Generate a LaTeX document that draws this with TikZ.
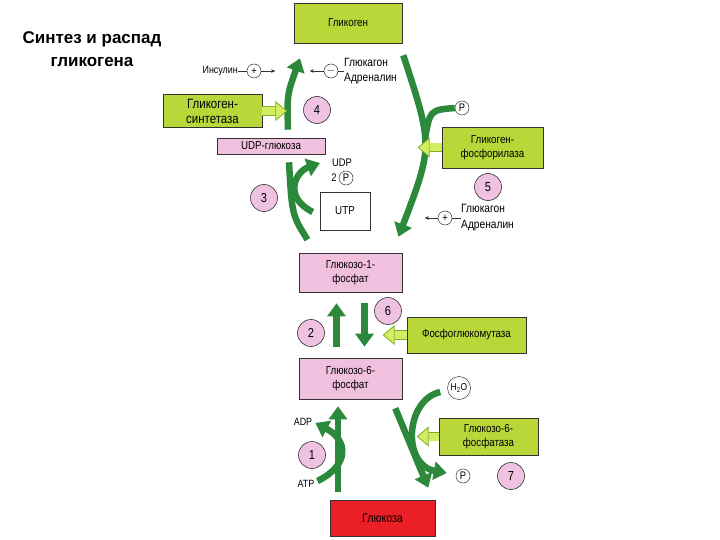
\documentclass[tikz,border=0pt]{standalone}
\usepackage{fontspec}
\setmainfont{Liberation Sans}
\newfontfamily\narrowsf[FakeStretch=0.85]{Liberation Sans}
\usetikzlibrary{arrows.meta,calc}
\definecolor{enzgreen}{RGB}{186,215,58}
\definecolor{holfill}{RGB}{212,236,96}
\definecolor{holedge}{RGB}{128,172,40}
\definecolor{flowgreen}{RGB}{44,136,58}
\definecolor{metpink}{RGB}{240,192,222}
\definecolor{numpink}{RGB}{240,194,226}
\definecolor{glured}{RGB}{234,32,38}
\begin{document}
\begin{tikzpicture}[x=1pt,y=-1pt,
    box/.style={draw=black!80,line width=0.6pt,minimum width=103pt,minimum height=39pt,inner sep=1pt,align=center,font=\narrowsf\fontsize{11.5}{14.5}\selectfont},
    enz/.style={box,fill=enzgreen},
    met/.style={box,fill=metpink},
    num/.style={circle,draw=black!80,line width=0.6pt,fill=numpink,minimum size=27pt,inner sep=0pt,font=\narrowsf\fontsize{13}{14}\selectfont},
    ring/.style={circle,draw=black!80,line width=0.5pt,minimum size=14pt,inner sep=0pt,font=\narrowsf\fontsize{11}{12}\selectfont},
    txt/.style={inner sep=0pt,align=left,font=\narrowsf\fontsize{10.5}{15}\selectfont},
    flow/.style={draw=flowgreen,line width=6.5pt,-{Triangle[length=13pt,width=18pt]}},
    flowline/.style={draw=flowgreen,line width=6.5pt},
    hol/.style={draw=holfill,line width=8pt,-{Triangle[length=12pt,width=20pt,line width=0.8pt,color=holedge,fill=holfill]},
        preaction={-,draw=holedge,line width=9.6pt,shorten >=12pt}},
    effect/.style={draw=black!80,line width=0.5pt,-{Stealth[length=4pt,width=3.5pt]}}]
\useasboundingbox (0,0) rectangle (720,540);
\node[font=\bfseries\fontsize{17}{23}\selectfont,align=center] (title) at (92,49) {Синтез и распад\\гликогена};
% substances and enzymes
\node[enz,minimum width=108pt,minimum height=40pt] (gn) at (348,23) {Гликоген};
\node[enz,minimum width=99pt,minimum height=33pt,font=\narrowsf\fontsize{13.5}{15}\selectfont] (gs) at (212.5,111) {Гликоген-\\синтетаза};
\node[met,minimum width=108pt,minimum height=16pt] (udpg) at (271,146) {UDP-глюкоза};
\node[box,minimum width=50pt,minimum height=38pt] (utp) at (345,211) {UTP};
\node[enz,minimum width=101pt,minimum height=41pt] (gp) at (492.5,147.5) {Гликоген-\\фосфорилаза};
\node[met] (g1p) at (350.5,272.5) {Глюкозо-1-\\фосфат};
\node[enz,minimum width=119pt,minimum height=36pt] (pgm) at (466.5,335) {Фосфоглюкомутаза};
\node[met,minimum height=41pt] (g6p) at (350.5,378.5) {Глюкозо-6-\\фосфат};
\node[enz,minimum width=99pt,minimum height=37pt] (gpase) at (488.5,436.5) {Глюкозо-6-\\фосфатаза};
\node[box,fill=glured,minimum width=105pt,minimum height=36pt,font=\narrowsf\fontsize{12.5}{14}\selectfont] (glu) at (382.5,518) {Глюкоза};
% step numbers
\node[num] (n1) at (312,455) {1};
\node[num] (n2) at (311,333) {2};
\node[num] (n3) at (264,198) {3};
\node[num] (n4) at (317,110) {4};
\node[num] (n5) at (488,187) {5};
\node[num] (n6) at (388,311) {6};
\node[num] (n7) at (511,476) {7};
% small labels
\node[txt,anchor=east] (ins) at (238,71) {Инсулин};
\node[ring] (insc) at (254,71) {+};
\node[ring] (gc1) at (331,71) {$-$};
\node[txt,anchor=west,font=\narrowsf\fontsize{12}{15}\selectfont] (gl1) at (344,71) {Глюкагон\\Адреналин};
\node[ring] (gc2) at (445,218) {+};
\node[txt,anchor=west,font=\narrowsf\fontsize{12}{16}\selectfont] (gl2) at (461,218) {Глюкагон\\Адреналин};
\node[ring] (p1) at (462,108) {P};
\node[txt,font=\narrowsf\fontsize{11}{12}\selectfont] (udp) at (342,163) {UDP};
\node[txt,font=\narrowsf\fontsize{11}{12}\selectfont] (two) at (334,178) {2};
\node[ring] (pp) at (346,178) {P};
\node[ring,minimum size=23pt,font=\narrowsf\fontsize{10}{12}\selectfont] (h2o) at (459,388) {H\textsubscript{2}O};
\node[ring] (p2) at (463,476) {P};
\node[txt] (adp) at (303,422) {ADP};
\node[txt] (atp) at (306,484) {ATP};
% green arrows
\draw[flow] ($(udpg.north)+(17,-8)$) .. controls (287,95) .. ($(gn.south)+(-48,15)$);
\draw[flow] ($(gn.south east)+(1,12)$) .. controls (433,146) .. ($(g1p.north)+(48,-16)$) coordinate[pos=0.45] (j5);
\draw[flowline] (p1.west) .. controls (430,110) .. (j5);
\draw[flowline] ($(udpg.south)+(18,8)$) .. controls (292,215) .. ($(g1p.north)+(-43,-13)$);
\draw[flow] ($(utp.west)+(-7,1)$) .. controls (283,197) and (295,172) .. ($(udp.west)+(-12,0)$);
\draw[flow] ($(g6p.north)+(-14,-11)$) -- ($(g1p.south)+(-14,11)$);
\draw[flow] ($(g1p.south)+(14,11)$) -- ($(g6p.north)+(14,-11)$);
\draw[flow] ($(glu.north)+(-44.5,-8)$) -- ($(g6p.south)+(-12.5,7)$);
\draw[flow] ($(atp.east)+(3,-3)$) .. controls (350,465) and (348,440) .. ($(adp.east)+(3,1)$);
\draw[flow] ($(g6p.south east)+(-7,9)$) -- ($(glu.north east)+(-7,-12)$);
\draw[flow] ($(h2o.west)+(-7,4)$) .. controls (405,400) and (402,465) .. ($(p2.west)+(-9,-3)$);
% enzymes act
\draw[hol] (gs.east) -- ($(gs.east)+(25,0)$);
\draw[hol] (gp.west) -- ($(gp.west)+(-24,0)$);
\draw[hol] (pgm.west) -- ($(pgm.west)+(-24,0)$);
\draw[hol] (gpase.west) -- ($(gpase.west)+(-22,0)$);
% regulators
\draw[draw=black!80,line width=0.5pt] (ins) -- (insc) (gc1) -- (gl1) (gc2) -- (gl2);
\draw[effect] (insc.east) -- ($(insc.east)+(14,0)$);
\draw[effect] (gc1.west) -- ($(gc1.west)+(-14,0)$);
\draw[effect] (gc2.west) -- ($(gc2.west)+(-13,0)$);
\end{tikzpicture}
\end{document}
